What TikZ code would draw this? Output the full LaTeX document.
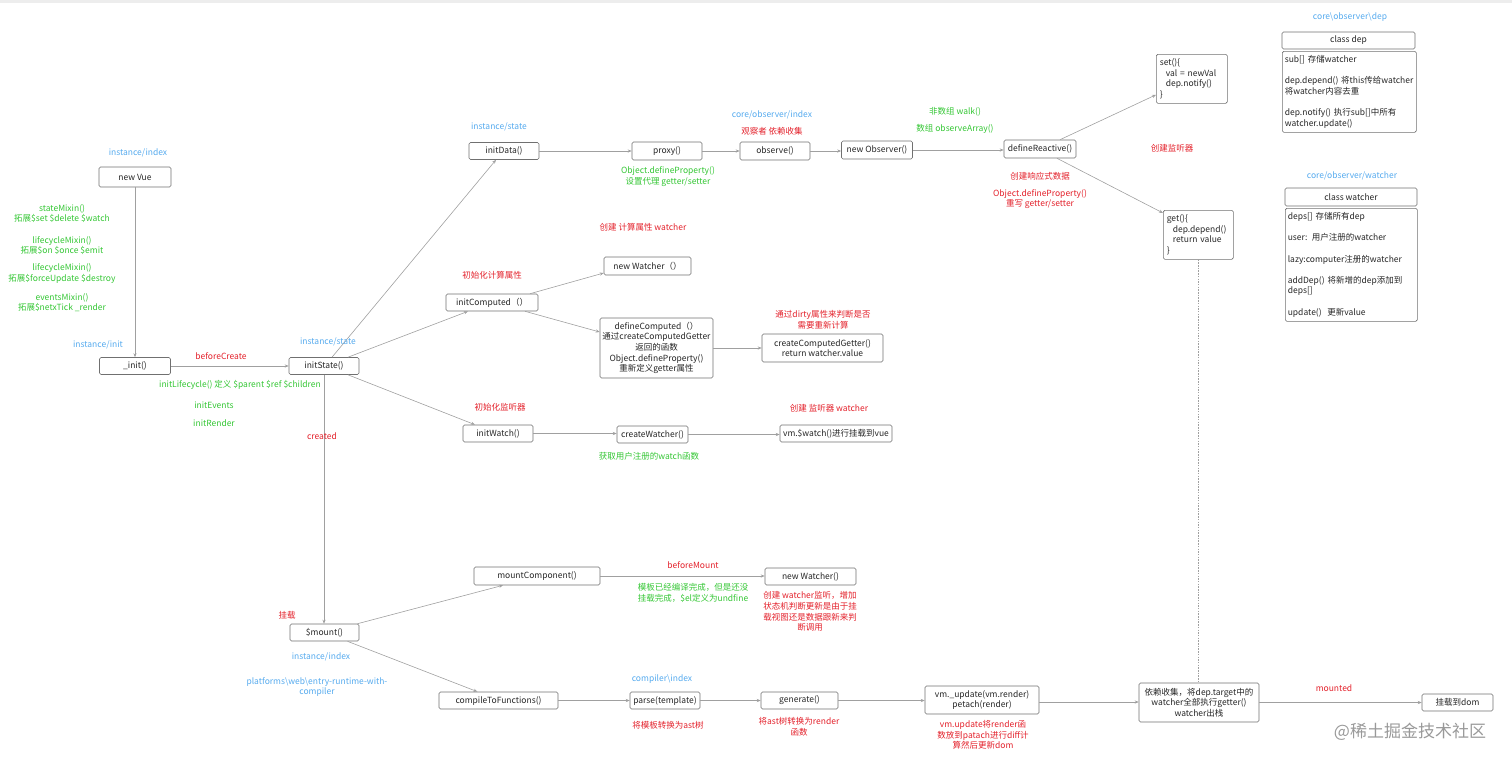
\documentclass[tikz,border=0pt]{standalone}
\usepackage{fontspec}
\setmainfont{Noto Sans CJK SC}
\usetikzlibrary{arrows.meta}
\definecolor{cblue}{HTML}{55AAEE}
\definecolor{cgreen}{HTML}{33C633}
\definecolor{cred}{HTML}{E3202A}
\definecolor{cedge}{HTML}{A0A0A0}
\definecolor{cbox}{HTML}{707070}
\newcommand{\fs}{\fontsize{8.5}{10.6}\selectfont}
\begin{document}
\begin{tikzpicture}[x=1pt,y=-1pt,
  box/.style={draw=cbox, line width=0.6pt, rounded corners=1.5pt, fill=white, inner sep=1.5pt, font=\fs, text=black!85, align=center},
  tbox/.style={draw=cbox, line width=0.6pt, rounded corners=1.5pt, fill=white, inner xsep=2.5pt, inner ysep=3pt, font=\fs, text=black!85, align=left, anchor=north west},
  lbl/.style={font=\fs, inner sep=0pt, align=center},
  lblue/.style={lbl, text=cblue},
  lgreen/.style={lbl, text=cgreen},
  lred/.style={lbl, text=cred},
  conn/.style={draw=cedge, line width=0.6pt, -{Stealth[length=4pt,width=3.2pt]}},
  dconn/.style={draw=cedge, line width=0.7pt, dash pattern=on 1.5pt off 1.2pt}
]
\useasboundingbox (0,0) rectangle (1512,764);
\fill[black!7] (0,0) rectangle (1512,3);

% ---------- boxes ----------
\node[box, minimum width=72pt, minimum height=20pt] (newvue) at (135,177) {new Vue};
\node[box, minimum width=71pt, minimum height=17pt] (init) at (135,366) {\_init()};
\node[box, minimum width=70pt, minimum height=17pt] (initState) at (324,366) {initState()};
\node[box, minimum width=70pt, minimum height=17pt] (initData) at (504,151) {initData()};
\node[box, minimum width=70pt, minimum height=18pt] (proxy) at (667,151) {proxy()};
\node[box, minimum width=70pt, minimum height=18pt] (observe) at (775,151) {observe()};
\node[box, minimum width=71pt, minimum height=18pt] (newObserver) at (877,150) {new Observer()};
\node[box, minimum width=72pt, minimum height=18pt] (defineReactive) at (1040,149) {defineReactive()};
\node[tbox, minimum width=71pt, minimum height=49pt, text width=64pt] (set) at (1156,54)
  {set()\{\\\hspace{6pt}val = newVal\\\hspace{6pt}dep.notify()\\\}};
\node[tbox, minimum width=70pt, minimum height=49pt, text width=63pt] (get) at (1163,210)
  {get()\{\\\hspace{6pt}dep.depend()\\\hspace{6pt}return value\\\}};

\node[box, minimum width=133pt, minimum height=17pt] (depHead) at (1348.5,40.5) {class dep};
\node[tbox, minimum width=134pt, minimum height=81pt, text width=129pt] (depBody) at (1282,51)
  {sub[] 存储watcher\\[10.6pt]\mbox{dep.depend() 将this传给watcher}\\将watcher内容去重\\[10.6pt]dep.notify() 执行sub[]中所有\\watcher.update()};
\node[box, minimum width=132pt, minimum height=18pt] (watchHead) at (1351,197) {class watcher};
\node[tbox, minimum width=132pt, minimum height=113pt, text width=127pt] (watchBody) at (1285,208)
  {deps[] 存储所有dep\\[10.6pt]user: 用户注册的watcher\\[10.6pt]lazy:computer注册的watcher\\[10.6pt]addDep() 将新增的dep添加到\\deps[]\\[10.6pt]update()\ \ 更新value};

\node[box, minimum width=92pt, minimum height=17pt] (initComputed) at (492,302.5) {initComputed（）};
\node[box, minimum width=87pt, minimum height=18pt] (newWatcher1) at (647.5,266) {new Watcher（）};
\node[box, minimum width=113pt, minimum height=60pt] (defineComputed) at (656.5,348)
  {defineComputed（）\\通过createComputedGetter\\返回的函数\\Object.defineProperty()\\重新定义getter属性};
\node[box, minimum width=121pt, minimum height=28pt] (ccg) at (822.5,348) {createComputedGetter()\\return watcher.value};
\node[box, minimum width=70pt, minimum height=17pt] (initWatch) at (498,433.5) {initWatch()};
\node[box, minimum width=71pt, minimum height=17pt] (createWatcher) at (652.5,434.5) {createWatcher()};
\node[box, minimum width=112pt, minimum height=17pt] (vmwatch) at (836,433.5) {vm.\$watch()进行挂载到vue};

\node[box, minimum width=69pt, minimum height=17pt] (mount) at (324.5,632.5) {\$mount()};
\node[box, minimum width=126pt, minimum height=18pt] (mountComponent) at (537,576) {mountComponent()};
\node[box, minimum width=91pt, minimum height=17pt] (newWatcher2) at (810.5,576.5) {new Watcher()};
\node[box, minimum width=119pt, minimum height=17pt] (compile) at (498.5,700.5) {compileToFunctions()};
\node[box, minimum width=70pt, minimum height=17pt] (parse) at (665,700.5) {parse(template)};
\node[box, minimum width=77pt, minimum height=17pt] (generate) at (799.5,700.5) {generate()};
\node[box, minimum width=114pt, minimum height=28pt] (vmupdate) at (982,700) {vm.\_update(vm.render)\\petach(render)};
\node[box, minimum width=120pt, minimum height=39pt] (depcollect) at (1199,702.5) {依赖收集，将dep.target中的\\watcher全部执行getter()\\watcher出栈};
\node[box, minimum width=71pt, minimum height=17pt] (mountdom) at (1457.5,702.5) {挂载到dom};

% ---------- connectors ----------
\draw[conn] (newvue) -- (init);
\draw[conn] (init.east) -- (init.east -| initState.west);
\draw[conn] ([xshift=8pt]initState.north) -- ([xshift=-8pt]initData.south);
\draw[conn] (initData.east) -- (initData.east -| proxy.west);
\draw[conn] (proxy.east) -- (proxy.east -| observe.west);
\draw[conn] (observe.east) -- (observe.east -| newObserver.west);
\draw[conn] (newObserver.east) -- (newObserver.east -| defineReactive.west);
\draw[conn] ([xshift=20pt]defineReactive.north) -- ([yshift=-16pt]set.west);
\draw[conn] ([xshift=17pt]defineReactive.south) -- ([yshift=-3pt]get.north west);
\draw[dconn] (get.south) -- (get.south |- depcollect.north);
\draw[conn] ([xshift=24pt]initState.north) -- ([xshift=-24pt]initComputed.south);
\draw[conn] ([xshift=38pt]initComputed.north) -- ([yshift=-7pt]newWatcher1.west);
\draw[conn] ([xshift=33pt]initComputed.south) -- ([yshift=16pt]defineComputed.west);
\draw[conn] (defineComputed.east) -- (defineComputed.east -| ccg.west);
\draw[conn] ([xshift=24pt]initState.south) -- ([xshift=-23pt]initWatch.north);
\draw[conn] (initWatch.east) -- (initWatch.east -| createWatcher.west);
\draw[conn] (createWatcher.east) -- (createWatcher.east -| vmwatch.west);
\draw[conn] (initState.south) -- (initState.south |- mount.north);
\draw[conn] ([xshift=33pt]mount.north) -- ([xshift=-34pt]mountComponent.south);
\draw[conn] (mountComponent.east) -- (mountComponent.east -| newWatcher2.west);
\draw[conn] ([xshift=23pt]mount.south) -- ([xshift=-21pt]compile.north);
\draw[conn] (compile.east) -- (compile.east -| parse.west);
\draw[conn] (parse.east) -- (parse.east -| generate.west);
\draw[conn] (generate.east) -- (generate.east -| vmupdate.west);
\draw[conn] ([yshift=-2pt]vmupdate.east) -- ([yshift=-2pt]vmupdate.east -| depcollect.west);
\draw[conn] (depcollect.east) -- (depcollect.east -| mountdom.west);

% ---------- labels ----------
\node[lblue] (l1) at (138,153) {instance/index};
\node[lgreen] (l2) at (62,213.5) {stateMixin()\\拓展\$set \$delete \$watch};
\node[lgreen] (l3) at (62,245.5) {lifecycleMixin()\\拓展\$on \$once \$emit};
\node[lgreen] (l4) at (62,273.5) {lifecycleMixin()\\拓展\$forceUpdate \$destroy};
\node[lgreen] (l5) at (62,302.5) {eventsMixin()\\拓展\$netxTick \_render};
\node[lblue] (l6) at (98,345) {instance/init};
\node[lred] (l7) at (221,356) {beforeCreate};
\node[lblue] (l8) at (328,342) {instance/state};
\node[lgreen] (l9) at (240,385) {initLifecycle() 定义 \$parent \$ref \$children};
\node[lgreen] (l10) at (214,405) {initEvents};
\node[lgreen] (l11) at (214,423) {initRender};
\node[lred] (l12) at (322,436) {created};
\node[lblue] (l13) at (499,127) {instance/state};
\node[lgreen] (l14) at (668,176.5) {Object.defineProperty()\\设置代理 getter/setter};
\node[lblue] (l15) at (772,115) {core/observer/index};
\node[lred] (l16) at (772,131) {观察者 依赖收集};
\node[lgreen] (l17) at (955,112) {非数组 walk()};
\node[lgreen] (l18) at (955,129) {数组 observeArray()};
\node[lred] (l19) at (1040,176) {创建响应式数据};
\node[lred] (l20) at (1040,199) {Object.defineProperty()\\重写 getter/setter};
\node[lred] (l21) at (1172,148) {创建监听器};
\node[lblue] (l22) at (1350,17) {core\textbackslash observer\textbackslash dep};
\node[lblue] (l23) at (1352,176) {core/observer/watcher};
\node[lred] (l24) at (492,275) {初始化计算属性};
\node[lred] (l25) at (643,227) {创建 计算属性 watcher};
\node[lred] (l26) at (823,319.5) {通过dirty属性来判断是否\\需要重新计算};
\node[lred] (l27) at (500,407) {初始化监听器};
\node[lgreen] (l28) at (649,456) {获取用户注册的watch函数};
\node[lred] (l29) at (829,408) {创建 监听器 watcher};
\node[lred] (l30) at (287,615) {挂载};
\node[lblue] (l31) at (321,657) {instance/index};
\node[lblue] (l32) at (317,687) {platforms\textbackslash web\textbackslash entry-runtime-with-\\compiler};
\node[lred] (l33) at (693,565) {beforeMount};
\node[lgreen] (l34) at (693,593) {模板已经编译完成，但是还没\\挂载完成，\$el定义为undfine};
\node[lred] (l35) at (810,611.5) {创建 watcher监听，增加\\状态机判断更新是由于挂\\载视图还是数据跟新来判\\断调用};
\node[lblue] (l36) at (662,679) {compiler\textbackslash index};
\node[lred] (l37) at (668,725) {将模板转换为ast树};
\node[lred] (l38) at (799,727) {将ast树转换为render\\函数};
\node[lred] (l39) at (983,735) {vm.update将render函\\数放到patach进行diff计\\算然后更新dom};
\node[lred] (l40) at (1334,688) {mounted};
\node[lbl, text=black!40, font=\fontsize{17}{20}\selectfont] (wm) at (1410,732) {@稀土掘金技术社区};
\end{tikzpicture}
\end{document}
